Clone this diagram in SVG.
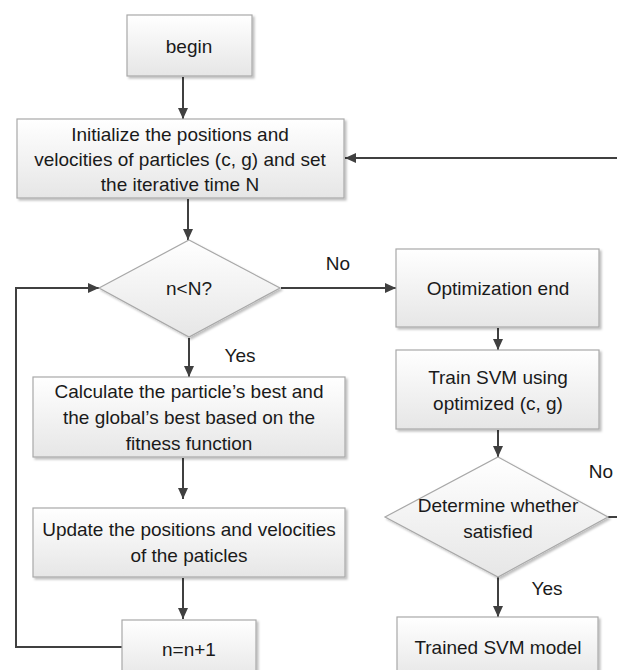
<svg xmlns="http://www.w3.org/2000/svg" width="617" height="670" viewBox="0 0 617 670">
<defs>
<linearGradient id="g" x1="0" y1="0" x2="0" y2="1">
<stop offset="0" stop-color="#ffffff"/>
<stop offset="1" stop-color="#e6e6e6"/>
</linearGradient>
<filter id="sh" x="-10%" y="-10%" width="130%" height="130%">
<feDropShadow dx="2" dy="2" stdDeviation="1.2" flood-color="#000" flood-opacity="0.25"/>
</filter>
<marker id="arr" markerUnits="userSpaceOnUse" markerWidth="12" markerHeight="12" refX="11" refY="6" orient="auto">
<path d="M0,1 L11,6 L0,11 z" fill="#404040"/>
</marker>
</defs>
<style>
.box{fill:url(#g);stroke:#a8a8a8;stroke-width:1.2;filter:url(#sh)}
.t{font-family:"Liberation Sans",Arial,sans-serif;font-size:19px;fill:#1a1a1a;text-anchor:middle;dominant-baseline:central}
.c{fill:none;stroke:#404040;stroke-width:2}
.ca{fill:none;stroke:#404040;stroke-width:2;marker-end:url(#arr)}
</style>
<rect width="617" height="670" fill="#ffffff"/>
<g id="connectors">
<line class="ca" x1="183" y1="77" x2="183" y2="119"/>
<line class="ca" x1="188" y1="199" x2="188" y2="240"/>
<line class="ca" x1="281" y1="288" x2="396" y2="288"/>
<line class="ca" x1="189" y1="338" x2="189" y2="377"/>
<line class="ca" x1="183" y1="458" x2="183" y2="499"/>
<line class="ca" x1="183" y1="578" x2="183" y2="619"/>
<polyline class="ca" points="122,647 16,647 16,288 99,288"/>
<line class="ca" x1="498" y1="328" x2="498" y2="350"/>
<line class="ca" x1="498" y1="430" x2="498" y2="457"/>
<line class="ca" x1="498" y1="577" x2="498" y2="617"/>
<line class="c" x1="608" y1="517" x2="617" y2="517"/>
<line class="ca" x1="617" y1="158" x2="345" y2="158"/>
<text class="t" x="338" y="263">No</text>
<text class="t" x="240" y="355">Yes</text>
<text class="t" x="601" y="471">No</text>
<text class="t" x="547" y="588">Yes</text>
</g>
<g id="begin">
<rect class="box" x="127" y="15" width="125" height="61"/>
<text class="t" x="189" y="46">begin</text>
</g>
<g id="init">
<rect class="box" x="17" y="119" width="327" height="79"/>
<text class="t" x="180" y="134">Initialize the positions and</text>
<text class="t" x="180" y="159">velocities of particles (c, g) and set</text>
<text class="t" x="180" y="184">the iterative time N</text>
</g>
<g id="cond">
<polygon class="box" points="189,240 280,288 189,337 99,288"/>
<text class="t" x="189" y="288">n&lt;N?</text>
</g>
<g id="calc">
<rect class="box" x="33" y="377" width="312" height="80"/>
<text class="t" x="189" y="391">Calculate the particle’s best and</text>
<text class="t" x="189" y="417">the global’s best based on the</text>
<text class="t" x="189" y="443">fitness function</text>
</g>
<g id="update">
<rect class="box" x="33" y="508" width="312" height="69"/>
<text class="t" x="189" y="529">Update the positions and velocities</text>
<text class="t" x="189" y="555">of the paticles</text>
</g>
<g id="incr">
<rect class="box" x="122" y="620" width="134" height="60"/>
<text class="t" x="189" y="649">n=n+1</text>
</g>
<g id="optend">
<rect class="box" x="396" y="249" width="203" height="78"/>
<text class="t" x="498" y="288">Optimization end</text>
</g>
<g id="train">
<rect class="box" x="396" y="350" width="203" height="79"/>
<text class="t" x="498" y="377">Train SVM using</text>
<text class="t" x="498" y="403">optimized (c, g)</text>
</g>
<g id="determine">
<polygon class="box" points="498,457 608,517 498,577 385,517"/>
<text class="t" x="498" y="505">Determine whether</text>
<text class="t" x="498" y="531">satisfied</text>
</g>
<g id="trained">
<rect class="box" x="397" y="617" width="201" height="63"/>
<text class="t" x="498" y="647">Trained SVM model</text>
</g>
</svg>
